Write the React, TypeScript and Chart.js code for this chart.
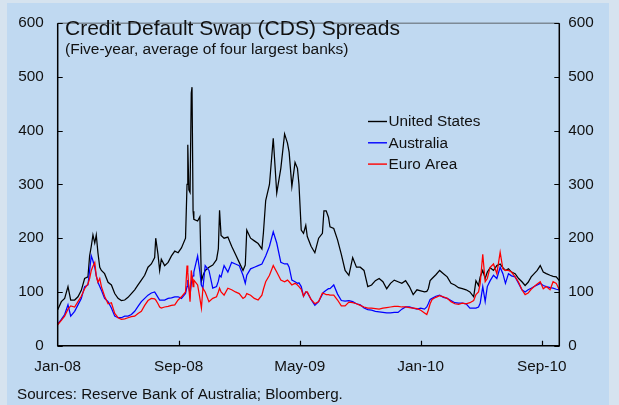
import { useEffect, useRef } from "react";
import { Chart, registerables } from "chart.js";

Chart.register(...registerables);

// Months elapsed since January 2008 (shared x values for every series)
const months = [
  0, 0.24, 0.46, 0.68, 0.86, 1.12, 1.34, 1.56, 1.78, 2.0, 2.11, 2.22, 2.33, 2.45, 2.55, 2.66,
  2.78, 2.89, 3.1, 3.33, 3.55, 3.77, 3.99, 4.21, 4.43, 4.65, 4.87, 5.09, 5.31, 5.53, 5.75, 5.97,
  6.19, 6.41, 6.48, 6.63, 6.74, 6.85, 7.07, 7.3, 7.52, 7.74, 7.96, 8.18,
  8.45, 8.55, 8.6, 8.67, 8.75, 8.83, 8.88, 8.95, 9.0, 9.25, 9.4, 9.5, 9.6, 9.75,
  10.0, 10.25, 10.5, 10.62, 10.7, 10.8, 11.0, 11.25, 11.5, 11.75, 12.0, 12.25, 12.4, 12.5,
  12.75, 13.0, 13.25, 13.5, 13.6, 13.75, 14.0, 14.25, 14.48, 14.75, 15.0, 15.19, 15.3, 15.48,
  15.69, 15.85, 15.95, 16.1, 16.25, 16.4, 16.5, 16.75, 17.0, 17.25, 17.5, 17.6, 17.75, 17.9,
  18.0, 18.25, 18.5, 18.75, 19.0, 19.25, 19.5, 19.75, 20.0, 20.25, 20.5, 20.75, 21.0, 21.25,
  21.5, 21.75, 22.0, 22.25, 22.5, 22.75, 23.0, 23.25, 23.5, 23.75, 24.0, 24.25, 24.4, 24.5,
  24.62, 24.75, 25.0, 25.25, 25.5, 25.75, 26.0, 26.25, 26.5, 26.75, 27.0, 27.25, 27.5, 27.65,
  27.82, 27.93, 28.1, 28.26, 28.4, 28.59, 28.81, 29.03, 29.25, 29.43, 29.6, 29.8, 30.0, 30.24,
  30.47, 30.69, 30.9, 31.1, 31.3, 31.5, 31.7, 31.9, 32.1, 32.3, 32.55, 32.75, 32.96, 33.16,
];

// Five-year CDS spreads, basis points
const unitedStates = [
  67, 82, 88, 110, 85, 85, 91, 103, 125, 128, 167, 185, 206, 191, 206, 173,
  146, 140, 134, 118, 113, 97, 88, 84, 85, 90, 97, 104, 113, 122, 131, 146,
  152, 164, 200, 170, 140, 161, 149, 155, 167, 176, 173, 182,
  200, 300, 374, 290, 285, 470, 481, 250, 235, 232, 240, 120, 130, 140,
  146, 150, 160, 180, 252, 205, 200, 202, 185, 170, 155, 140, 150, 215,
  200, 195, 190, 180, 210, 270, 300, 386, 284, 330, 394, 377, 360, 296,
  341, 330, 300, 215, 209, 224, 203, 185, 173, 200, 209, 251, 251, 239,
  221, 218, 197, 170, 140, 131, 164, 146, 146, 140, 110, 113, 121, 125,
  119, 106, 116, 122, 119, 116, 121, 110, 95, 104, 102, 100, 101, 106,
  121, 125, 132, 140, 134, 128, 116, 113, 108, 106, 104, 100, 91, 121,
  112, 128, 140, 125, 137, 145, 140, 149, 152, 145, 140, 143, 137, 134,
  125, 119, 112, 118, 128, 134, 140, 149, 137, 134, 131, 129, 128, 121,
];

const australia = [
  40, 49, 58, 76, 55, 64, 76, 88, 110, 113, 140, 167, 158, 146, 130, 118,
  110, 103, 88, 82, 70, 55, 52, 52, 55, 55, 58, 64, 73, 82, 88, 94,
  98, 100, 97, 90, 85, 85, 85, 88, 89, 91, 91, 88,
  97, 110, 122, 110, 95, 115, 125, 130, 137, 167, 137, 113, 107, 149,
  140, 107, 110, 120, 131, 128, 149, 137, 155, 152, 149, 131, 116, 131,
  143, 146, 149, 152, 158, 167, 185, 212, 191, 155, 152, 152, 146, 122,
  119, 116, 117, 110, 92, 100, 99, 86, 75, 82, 96, 100, 103, 106,
  106, 113, 96, 84, 83, 84, 82, 78, 76, 70, 67, 66, 64, 63,
  62, 61, 61, 62, 62, 68, 72, 72, 70, 68, 70, 68, 72, 78,
  86, 88, 92, 94, 90, 88, 84, 80, 79, 79, 78, 70, 70, 70,
  72, 79, 110, 82, 110, 121, 131, 125, 146, 134, 116, 134, 130, 128,
  116, 104, 100, 104, 107, 110, 113, 116, 112, 110, 108, 107, 105, 104,
];

const euroArea = [
  39, 47, 55, 68, 74, 72, 82, 92, 106, 115, 125, 140, 148, 155, 130, 118,
  125, 110, 92, 78, 80, 60, 52, 49, 50, 52, 54, 55, 60, 64, 75, 84,
  88, 87, 85, 78, 72, 70, 72, 73, 75, 76, 85, 91,
  100, 149, 137, 107, 82, 140, 130, 110, 122, 113, 88, 70, 107, 100,
  82, 88, 91, 100, 107, 100, 94, 107, 104, 100, 97, 88, 91, 97,
  94, 88, 85, 94, 105, 119, 131, 149, 137, 122, 119, 122, 119, 113,
  116, 113, 110, 105, 92, 100, 100, 86, 78, 82, 98, 97, 95, 95,
  94, 94, 85, 74, 74, 81, 80, 78, 75, 72, 70, 70, 69, 68,
  70, 71, 72, 73, 73, 72, 72, 71, 70, 69, 66, 61, 58, 66,
  78, 86, 90, 93, 91, 88, 82, 78, 77, 79, 78, 80, 84, 95,
  100, 116, 170, 119, 125, 146, 152, 134, 174, 143, 140, 140, 137, 128,
  118, 104, 95, 98, 105, 110, 115, 119, 106, 110, 104, 119, 116, 104,
];

const seriesNames = ["United States", "Australia", "Euro Area"];
const seriesColors = ["#000000", "#0000ff", "#ff0000"];

const tickMonths = [0, 8, 16, 24, 32];
const tickLabels = ["Jan-08", "Sep-08", "May-09", "Jan-10", "Sep-10"];
const yTicks = [0, 100, 200, 300, 400, 500, 600];

const titleText = "Credit Default Swap (CDS) Spreads";
const subtitleText = "(Five-year, average of four largest banks)";
const sourceText = "Sources: Reserve Bank of Australia; Bloomberg.";

const FONT = "'Liberation Sans', Arial, Helvetica, sans-serif";
const TEXT = "#111111";
const PANEL = "#c0d9f1";
const OUTER = "#d6e3ef";

const decorPlugin = {
  id: "decor",
  beforeDraw(chart: any) {
    const { ctx, width, height } = chart;
    ctx.save();
    ctx.fillStyle = OUTER;
    ctx.fillRect(0, 0, width, height);
    ctx.fillStyle = PANEL;
    ctx.fillRect(7, 3, 602, height - 3);
    ctx.restore();
  },
  afterDraw(chart: any) {
    const { ctx, chartArea } = chart;
    const { left, right, top, bottom } = chartArea;
    const y = chart.scales.y;
    const x = chart.scales.x;
    ctx.save();

    // top frame line
    ctx.strokeStyle = "#7d8a96";
    ctx.lineWidth = 1.5;
    ctx.beginPath();
    ctx.moveTo(left, top);
    ctx.lineTo(right, top);
    ctx.stroke();

    // axes
    ctx.strokeStyle = "#000000";
    ctx.lineWidth = 1.5;
    ctx.beginPath();
    ctx.moveTo(left, top);
    ctx.lineTo(left, bottom);
    ctx.lineTo(right, bottom);
    ctx.lineTo(right, top);
    ctx.stroke();

    // inward tick marks
    ctx.lineWidth = 1.2;
    ctx.beginPath();
    for (const v of yTicks) {
      const py = Math.round(y.getPixelForValue(v)) + 0.5;
      ctx.moveTo(left, py);
      ctx.lineTo(left + 5, py);
      ctx.moveTo(right, py);
      ctx.lineTo(right - 5, py);
    }
    for (const m of tickMonths) {
      if (m === 0) continue;
      const px = Math.round(x.getPixelForValue(m)) + 0.5;
      ctx.moveTo(px, bottom);
      ctx.lineTo(px, bottom - 5);
    }
    ctx.stroke();

    // title block
    ctx.fillStyle = TEXT;
    ctx.textAlign = "left";
    ctx.textBaseline = "alphabetic";
    ctx.font = `21px ${FONT}`;
    ctx.fillText(titleText, 65, 35);
    ctx.font = `15.5px ${FONT}`;
    ctx.fillText(subtitleText, 65, 53.5);

    // legend
    ctx.font = `15.3px ${FONT}`;
    ctx.textBaseline = "middle";
    chart.data.datasets.forEach((ds: any, i: number) => {
      const ly = 121.5 + i * 21.3;
      ctx.strokeStyle = ds.borderColor;
      ctx.lineWidth = 1.4;
      ctx.beginPath();
      ctx.moveTo(368, ly);
      ctx.lineTo(387, ly);
      ctx.stroke();
      ctx.fillStyle = TEXT;
      ctx.fillText(ds.label, 388.5, ly + 0.5);
    });

    // source note
    ctx.textBaseline = "alphabetic";
    ctx.font = `15.2px ${FONT}`;
    ctx.fillText(sourceText, 17, 398.5);
    ctx.restore();
  },
};

export default function App() {
  const canvasRef = useRef<HTMLCanvasElement | null>(null);

  useEffect(() => {
    document.body.style.margin = "0";
    const canvas = canvasRef.current;
    if (!canvas) return;

    const series = [unitedStates, australia, euroArea];
    const datasets = series.map((values, i) => ({
      label: seriesNames[i],
      data: months.map((m, j) => ({ x: m, y: values[j] })),
      borderColor: seriesColors[i],
      backgroundColor: seriesColors[i],
      borderWidth: 1.25,
      pointRadius: 0,
      tension: 0,
      order: 3 - i,
      yAxisID: "y",
    }));

    const tickFont = { family: FONT, size: 15.3 };

    const chart = new Chart(canvas, {
      type: "line",
      data: { datasets },
      plugins: [decorPlugin],
      options: {
        animation: false,
        responsive: false,
        devicePixelRatio: 1,
        layout: { padding: { top: 13.3, left: 0, right: 0, bottom: 0 } },
        plugins: {
          legend: { display: false },
          tooltip: { enabled: false },
        },
        scales: {
          x: {
            type: "linear",
            min: 0,
            max: 33.16,
            grid: { display: false, drawTicks: false },
            border: { display: false },
            afterBuildTicks: (scale: any) => {
              scale.ticks = tickMonths.map((v) => ({ value: v }));
            },
            afterFit: (scale: any) => {
              scale.height = 405 - 345.7;
            },
            ticks: {
              autoSkip: false,
              maxRotation: 0,
              padding: 12,
              color: TEXT,
              font: tickFont,
              callback: (value: any) => {
                const k = tickMonths.indexOf(Number(value));
                return k >= 0 ? tickLabels[k] : "";
              },
            },
          },
          y: {
            type: "linear",
            position: "left",
            min: 0,
            max: 600,
            grid: { display: false, drawTicks: false },
            border: { display: false },
            afterFit: (scale: any) => {
              scale.width = 57.7;
            },
            ticks: { stepSize: 100, padding: 14, color: TEXT, font: tickFont },
          },
          y2: {
            type: "linear",
            position: "right",
            min: 0,
            max: 600,
            grid: { display: false, drawTicks: false },
            border: { display: false },
            afterFit: (scale: any) => {
              scale.width = 619 - 559.3;
            },
            ticks: { stepSize: 100, padding: 9, color: TEXT, font: tickFont },
          },
        },
      },
    });

    return () => chart.destroy();
  }, []);

  return (
    <div style={{ position: "absolute", left: 0, top: 0, width: 619, height: 405 }}>
      <canvas ref={canvasRef} width={619} height={405} />
    </div>
  );
}
